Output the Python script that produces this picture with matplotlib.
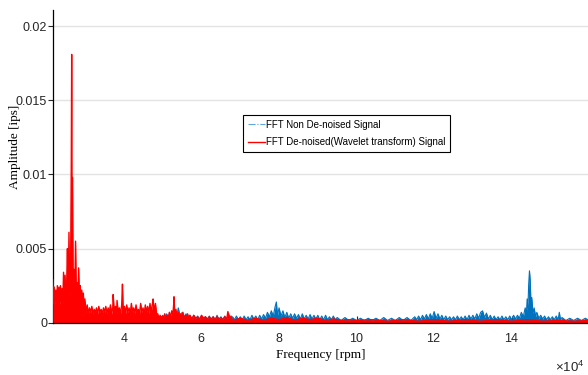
import matplotlib
matplotlib.use("Agg")
import matplotlib.pyplot as plt
from matplotlib.lines import Line2D
from matplotlib.ticker import ScalarFormatter

# frequency in 1e4 rpm, amplitude in 1e-3 ips
blue_freq = [
    2.20, 2.30, 2.40, 2.50, 2.60, 2.70, 2.80, 2.90, 3.00, 3.20,
    3.40, 3.60, 3.80, 4.00, 4.20, 4.40, 4.60, 4.80, 4.90, 4.95,
    5.00, 5.05, 5.10, 5.15, 5.20, 5.25, 5.30, 5.35, 5.40, 5.45,
    5.50, 5.55, 5.60, 5.65, 5.70, 5.75, 5.80, 5.85, 5.90, 5.95,
    6.00, 6.05, 6.10, 6.15, 6.20, 6.25, 6.30, 6.35, 6.40, 6.45,
    6.50, 6.55, 6.60, 6.65, 6.70, 6.75, 6.80, 6.85, 6.90, 6.95,
    7.00, 7.05, 7.10, 7.15, 7.20, 7.25, 7.30, 7.35, 7.40, 7.45,
    7.50, 7.55, 7.60, 7.65, 7.70, 7.75, 7.80, 7.85, 7.90, 7.93,
    7.96, 8.00, 8.05, 8.10, 8.15, 8.20, 8.25, 8.30, 8.35, 8.40,
    8.45, 8.50, 8.55, 8.60, 8.65, 8.70, 8.75, 8.80, 8.85, 8.90,
    8.95, 9.00, 9.05, 9.10, 9.15, 9.20, 9.25, 9.30, 9.35, 9.40,
    9.45, 9.50, 9.60, 9.70, 9.80, 9.90, 10.00, 10.10, 10.20, 10.30,
    10.40, 10.50, 10.60, 10.70, 10.80, 10.90, 11.00, 11.10, 11.20, 11.30,
    11.40, 11.50, 11.55, 11.60, 11.65, 11.70, 11.75, 11.80, 11.85, 11.90,
    11.95, 12.00, 12.05, 12.10, 12.15, 12.20, 12.25, 12.30, 12.35, 12.40,
    12.45, 12.50, 12.55, 12.60, 12.65, 12.70, 12.75, 12.80, 12.85, 12.90,
    12.95, 13.00, 13.05, 13.10, 13.15, 13.20, 13.25, 13.30, 13.35, 13.40,
    13.45, 13.50, 13.55, 13.60, 13.65, 13.70, 13.75, 13.80, 13.85, 13.90,
    13.95, 14.00, 14.05, 14.10, 14.15, 14.20, 14.25, 14.30, 14.35, 14.38,
    14.40, 14.42, 14.44, 14.46, 14.48, 14.50, 14.52, 14.55, 14.58, 14.62,
    14.65, 14.70, 14.75, 14.80, 14.85, 14.90, 14.95, 15.00, 15.05, 15.10,
    15.15, 15.20, 15.23, 15.26, 15.30, 15.40, 15.50, 15.60, 15.70, 15.80,
    15.90, 16.00,
]
blue_amp = [
    0.5, 0.3, 0.6, 0.3, 0.6, 0.3, 0.5, 0.3, 0.5, 0.3,
    0.5, 0.3, 0.5, 0.3, 0.5, 0.3, 0.5, 0.3, 0.4, 0.25,
    0.5, 0.25, 0.6, 0.3, 0.5, 0.3, 0.8, 0.3, 1.0, 0.4,
    0.7, 0.3, 0.6, 0.3, 0.5, 0.25, 0.5, 0.25, 0.45, 0.2,
    0.45, 0.2, 0.4, 0.2, 0.45, 0.2, 0.4, 0.2, 0.5, 0.2,
    0.4, 0.2, 0.45, 0.2, 0.6, 0.2, 0.4, 0.2, 0.45, 0.2,
    0.4, 0.2, 0.45, 0.2, 0.4, 0.2, 0.5, 0.25, 0.45, 0.2,
    0.5, 0.25, 0.55, 0.3, 0.7, 0.4, 0.8, 0.45, 1.1, 1.4,
    0.5, 1.0, 0.45, 0.8, 0.35, 0.7, 0.3, 0.6, 0.3, 0.6,
    0.3, 0.55, 0.25, 0.6, 0.25, 0.5, 0.25, 0.55, 0.25, 0.5,
    0.25, 0.5, 0.2, 0.45, 0.2, 0.5, 0.2, 0.4, 0.2, 0.45,
    0.2, 0.35, 0.15, 0.35, 0.15, 0.3, 0.15, 0.3, 0.15, 0.3,
    0.15, 0.3, 0.15, 0.35, 0.15, 0.3, 0.15, 0.35, 0.15, 0.35,
    0.15, 0.4, 0.2, 0.45, 0.2, 0.5, 0.25, 0.55, 0.25, 0.6,
    0.3, 0.75, 0.3, 0.6, 0.25, 0.5, 0.2, 0.45, 0.2, 0.4,
    0.2, 0.4, 0.2, 0.45, 0.2, 0.4, 0.2, 0.45, 0.2, 0.5,
    0.25, 0.5, 0.25, 0.6, 0.3, 0.7, 0.8, 0.35, 0.65, 0.25,
    0.5, 0.2, 0.45, 0.2, 0.4, 0.2, 0.45, 0.2, 0.4, 0.2,
    0.45, 0.2, 0.5, 0.25, 0.5, 0.3, 0.7, 0.4, 1.0, 0.6,
    1.6, 1.0, 2.6, 3.5, 2.8, 1.1, 1.7, 0.6, 1.0, 0.4,
    0.7, 0.3, 0.5, 0.25, 0.45, 0.2, 0.4, 0.2, 0.4, 0.2,
    0.45, 0.2, 0.7, 0.2, 0.35, 0.15, 0.3, 0.15, 0.3, 0.15,
    0.3, 0.15,
]

red_freq = [
    2.16, 2.18, 2.20, 2.22, 2.24, 2.26, 2.28, 2.30, 2.32, 2.34,
    2.36, 2.38, 2.40, 2.42, 2.44, 2.46, 2.48, 2.50, 2.52, 2.54,
    2.56, 2.58, 2.60, 2.62, 2.64, 2.65, 2.66, 2.67, 2.69, 2.71,
    2.73, 2.75, 2.77, 2.79, 2.81, 2.83, 2.85, 2.87, 2.89, 2.91,
    2.93, 2.95, 2.97, 2.99,
    3.02, 3.05, 3.08, 3.11, 3.14, 3.17, 3.20, 3.23, 3.26, 3.29,
    3.32, 3.35, 3.38, 3.41, 3.44, 3.47, 3.50, 3.53, 3.56, 3.59,
    3.62, 3.65, 3.68, 3.71, 3.72, 3.75, 3.78, 3.81, 3.82, 3.85,
    3.88, 3.91, 3.94, 3.96, 3.98, 4.01, 4.04, 4.07, 4.10, 4.13,
    4.16, 4.19, 4.22, 4.25, 4.28, 4.31, 4.34, 4.37, 4.40, 4.43,
    4.46, 4.49, 4.52, 4.55, 4.58, 4.61, 4.64, 4.67, 4.70, 4.73,
    4.75, 4.78, 4.81, 4.84,
    4.87, 4.90, 4.93, 4.96, 4.99, 5.02, 5.05, 5.08, 5.11, 5.14,
    5.17, 5.20, 5.23, 5.26, 5.28, 5.29, 5.31, 5.34, 5.37, 5.40,
    5.43, 5.46, 5.49, 5.52, 5.55, 5.58, 5.61, 5.64, 5.67, 5.70,
    5.75, 5.80, 5.85, 5.90, 5.95, 6.00, 6.05, 6.10, 6.15, 6.20,
    6.25, 6.30, 6.35, 6.40, 6.45, 6.50, 6.55, 6.60, 6.65, 6.68,
    6.72, 6.76,
    6.80, 7.00, 7.20, 7.40, 7.60, 7.80, 8.00, 8.20, 8.40, 8.60,
    8.80, 9.00, 9.20, 9.40, 9.60, 9.80, 10.00, 10.40, 10.80, 11.20,
    11.60, 12.00, 12.40, 12.80, 13.20, 13.60, 14.00, 14.40, 14.80, 15.20,
    15.60, 16.00,
]
red_amp = [
    2.9, 1.3, 2.4, 1.2, 2.2, 1.4, 2.5, 1.3, 2.4, 1.2,
    2.5, 1.4, 2.3, 1.3, 3.4, 1.5, 3.2, 1.6, 2.6, 5.0,
    1.8, 6.1, 1.9, 2.8, 10.9, 18.1, 2.0, 9.8, 1.8, 3.6,
    1.7, 5.5, 1.8, 2.7, 1.5, 3.7, 1.6, 2.5, 1.3, 2.2,
    1.1, 2.0, 1.0, 1.6,
    0.7, 1.2, 0.6, 1.0, 0.7, 1.1, 0.6, 0.9, 0.7, 1.0,
    0.6, 1.1, 0.7, 0.9, 0.6, 1.0, 0.7, 1.1, 0.6, 1.0,
    0.7, 1.2, 0.6, 1.0, 1.9, 0.7, 1.1, 0.6, 1.5, 0.7,
    1.0, 0.6, 1.2, 2.6, 0.7, 1.1, 0.6, 1.2, 0.7, 1.0,
    0.6, 1.3, 0.7, 1.0, 0.6, 1.2, 0.7, 0.9, 0.6, 1.3,
    0.7, 1.0, 0.6, 1.2, 0.7, 1.1, 0.6, 1.3, 0.7, 1.2,
    1.6, 0.7, 1.3, 0.6,
    0.6, 0.3, 0.5, 0.35, 0.45, 0.3, 0.6, 0.3, 0.5, 0.35,
    0.7, 0.35, 0.8, 0.5, 1.2, 1.75, 0.5, 0.9, 0.35, 0.7,
    0.3, 0.6, 0.3, 0.7, 0.3, 0.5, 0.25, 0.6, 0.3, 0.5,
    0.25, 0.5, 0.3, 0.4, 0.25, 0.5, 0.3, 0.4, 0.25, 0.4,
    0.25, 0.4, 0.2, 0.4, 0.25, 0.35, 0.2, 0.4, 0.25, 0.75,
    0.25, 0.45,
    0.15, 0.3, 0.15, 0.3, 0.15, 0.3, 0.2, 0.35, 0.15, 0.3,
    0.2, 0.3, 0.15, 0.25, 0.15, 0.2, 0.15, 0.2, 0.1, 0.2,
    0.1, 0.2, 0.1, 0.2, 0.1, 0.2, 0.1, 0.2, 0.1, 0.15,
    0.1, 0.15,
]

y_ticks = [0, 0.005, 0.01, 0.015, 0.02]
y_tick_labels = ["0", "0.005", "0.01", "0.015", "0.02"]
x_ticks = [40000, 60000, 80000, 100000, 120000, 140000]

label_blue = "FFT Non De-noised Signal"
label_red = "FFT De-noised(Wavelet transform) Signal"

sans = ["Liberation Sans", "DejaVu Sans"]
serif = ["Liberation Serif", "DejaVu Serif"]
plt.rcParams["mathtext.fontset"] = "custom"
plt.rcParams["mathtext.rm"] = "Liberation Sans"
plt.rcParams["mathtext.it"] = "Liberation Sans"

blue = "#0072BD"
red = "#FF0000"

fig = plt.figure(figsize=(5.88, 3.75), dpi=100)
ax = fig.add_axes([0.0896, 0.1395, 0.9104, 0.834])

bx = [f * 1e4 for f in blue_freq]
by = [a * 1e-3 for a in blue_amp]
rx = [f * 1e4 for f in red_freq]
ry = [a * 1e-3 for a in red_amp]

# blue under red, fill + outline for the dense fft look
ax.fill_between(bx, 0, by, color=blue, lw=0, zorder=2)
ax.plot(bx, by, color=blue, lw=0.8, zorder=2.1)
ax.fill_between(rx, 0, ry, color=red, lw=0, zorder=3)
ax.plot(rx, ry, color=red, lw=1.0, zorder=3.1)

ax.set_xlim(2.16e4, 15.97e4)
ax.set_ylim(0, 0.0211)
ax.set_yticks(y_ticks)
ax.set_yticklabels(y_tick_labels)
ax.set_xticks(x_ticks)
fmt = ScalarFormatter(useMathText=True)
fmt.set_powerlimits((4, 4))
ax.xaxis.set_major_formatter(fmt)
ax.xaxis.get_offset_text().set_visible(False)
ax.text(0.993, -0.158, r"$\times10^{4}$", transform=ax.transAxes,
        ha="right", va="baseline", fontsize=9.5, color="#262626")

ax.yaxis.grid(True, color="#e3e3e3", lw=1.0)
ax.set_axisbelow(True)
for s in ["top", "right"]:
    ax.spines[s].set_visible(False)
ax.spines["left"].set_linewidth(0.9)
ax.spines["bottom"].set_linewidth(0.9)
ax.spines["bottom"].set_zorder(4)

ax.tick_params(axis="y", direction="out", length=3.5, width=0.8, pad=0.5,
               labelsize=9, colors="#262626")
ax.tick_params(axis="x", direction="in", length=5, width=0.8, pad=7,
               labelsize=9, colors="#262626")
for lab in ax.get_xticklabels() + ax.get_yticklabels():
    lab.set_family(sans)

ax.set_xlabel("Frequency [rpm]", family=serif, fontsize=9.5)
ax.set_ylabel("Amplitude [ips]", family=serif, fontsize=9.5)
ax.xaxis.set_label_coords(0.5, -0.085)
ax.yaxis.set_label_coords(-0.06, 0.562)

handles = [
    Line2D([], [], color="#5fa8dc", lw=0.8, ls="-."),
    Line2D([], [], color=red, lw=1.0),
]
leg = ax.legend(handles, [label_blue, label_red], loc="upper left",
                bbox_to_anchor=(0.355, 0.664), prop={"family": sans, "size": 7},
                fancybox=False, framealpha=1, edgecolor="black",
                handlelength=1.8, handletextpad=0.1, borderpad=0.5,
                labelspacing=0.75, borderaxespad=0)
leg.get_frame().set_linewidth(0.8)
leg.set_zorder(5)

fig.savefig("out.png", dpi=100)
